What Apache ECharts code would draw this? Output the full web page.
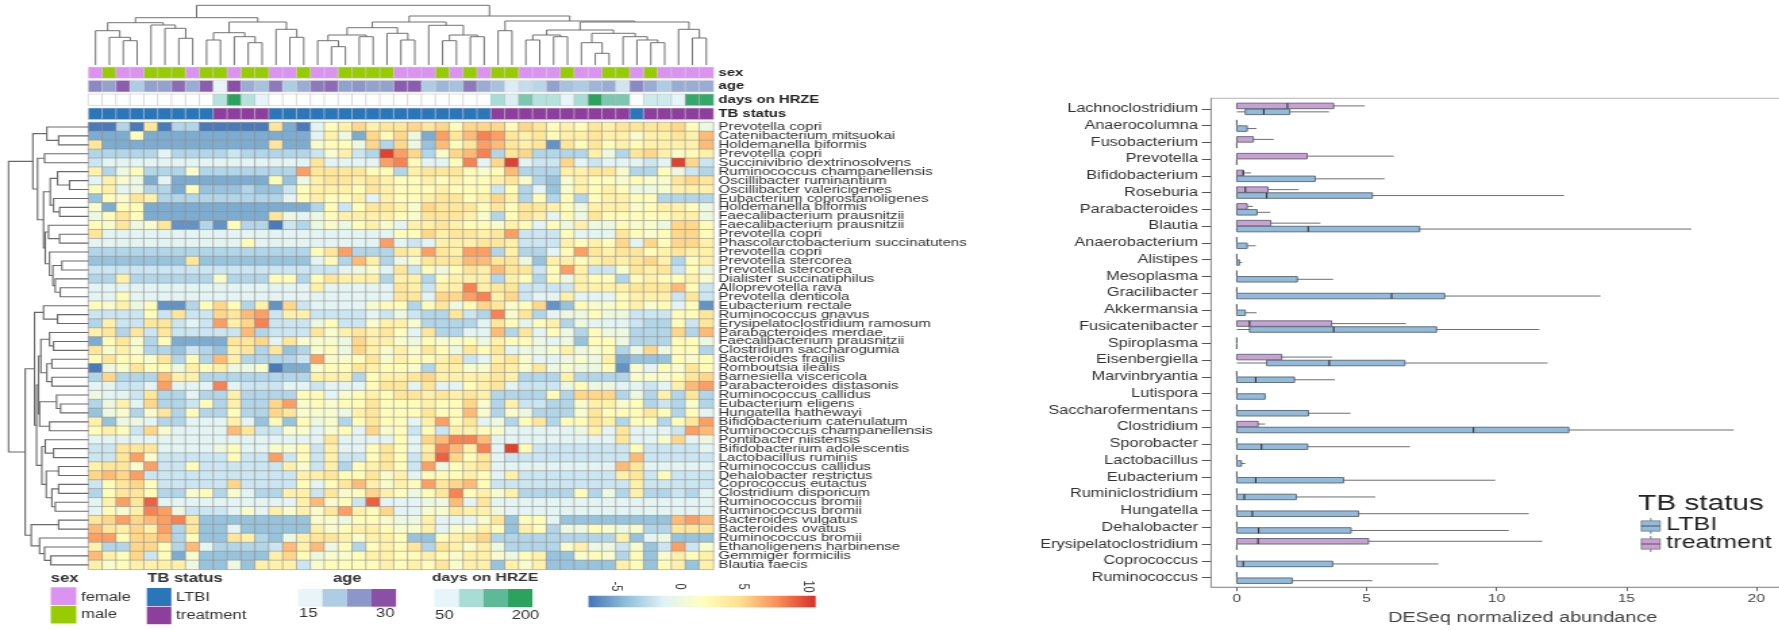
<!DOCTYPE html>
<html>
<head>
<meta charset="utf-8">
<script src="https://cdn.jsdelivr.net/npm/echarts@6/dist/echarts.min.js"></script>
<style>
html,body{margin:0;padding:0;background:#fff;overflow:hidden;width:1779px;height:630px}
#chart{position:absolute;left:0;top:0;height:630px;transform-origin:0 0;}
</style>
</head>
<body>
<div id="chart"></div>
<script>
const rowLabels = ["Prevotella copri","Catenibacterium mitsuokai","Holdemanella biformis","Prevotella copri","Succinivibrio dextrinosolvens","Ruminococcus champanellensis","Oscillibacter ruminantium","Oscillibacter valericigenes","Eubacterium coprostanoligenes","Holdemanella biformis","Faecalibacterium prausnitzii","Faecalibacterium prausnitzii","Prevotella copri","Phascolarctobacterium succinatutens","Prevotella copri","Prevotella stercorea","Prevotella stercorea","Dialister succinatiphilus","Alloprevotella rava","Prevotella denticola","Eubacterium rectale","Ruminococcus gnavus","Erysipelatoclostridium ramosum","Parabacteroides merdae","Faecalibacterium prausnitzii","Clostridium saccharogumia","Bacteroides fragilis","Romboutsia ilealis","Barnesiella viscericola","Parabacteroides distasonis","Ruminococcus callidus","Eubacterium eligens","Hungatella hathewayi","Bifidobacterium catenulatum","Ruminococcus champanellensis","Pontibacter niistensis","Bifidobacterium adolescentis","Lactobacillus ruminis","Ruminococcus callidus","Dehalobacter restrictus","Coprococcus eutactus","Clostridium disporicum","Ruminococcus bromii","Ruminococcus bromii","Bacteroides vulgatus","Bacteroides ovatus","Ruminococcus bromii","Ethanoligenens harbinense","Gemmiger formicilis","Blautia faecis"];

const heatValues = [
[-7,-7,-3,-7,4,-7,-3,-3,-7,-7,-7,-7,-7,4,-5,-7,-1,2,3,5,3,4,4,5,4,5,2,5,5,5,2,5,4,2,3,2,4,3,4,4,4,4,5,2,0],
[-5,-5,-5,2,-5,-5,-5,-5,-5,-5,-5,-5,-5,-5,-5,-5,-1,3,0,-5,5,2,5,0,-5,7,4,6,8,7,4,3,4,2,3,3,4,3,3,1,3,3,4,3,6],
[4,-5,-5,-5,-5,-5,-5,-5,-5,-5,-5,-5,-5,4,-5,-5,1,2,2,0,5,-3,5,0,-4,6,2,4,7,6,4,3,4,-6,4,2,4,2,3,2,3,3,3,3,6],
[-3,-3,-3,-3,-3,-1,-3,-3,-3,-3,-2,-3,-3,-3,-3,-3,-2,1,3,-2,-3,10,7,5,-3,1,5,6,8,-3,4,5,-3,-3,-3,-3,3,0,-3,4,5,3,1,2,3],
[-2,-1,-1,-1,-1,-1,-1,-1,-1,-1,-1,-1,-1,-1,-1,-1,4,-1,-1,-1,-1,7,8,2,-1,-1,2,8,-1,5,10,-1,-2,-2,5,-1,-2,-1,-1,-1,-2,-1,10,5,-2],
[3,-3,0,2,-3,-3,-3,1,-3,-3,-3,-3,-3,-3,-3,7,4,4,4,4,2,2,-3,3,4,4,4,2,1,2,6,-3,-3,-3,3,3,4,4,1,-3,-3,2,0,-2,-3],
[-1,3,1,0,-5,-1,-5,-5,-5,-5,-5,-5,-5,2,-4,0,3,4,4,3,4,3,2,2,3,2,3,2,2,3,4,1,-3,-4,1,3,2,2,1,2,1,1,4,5,4],
[2,3,-1,0,-3,-3,-5,2,-4,-4,-4,-3,-4,-4,-2,2,3,3,3,2,4,3,2,2,2,3,2,2,2,-2,2,-3,-1,-4,1,3,2,3,2,0,0,1,3,3,3],
[-4,2,1,4,3,-3,-3,-3,-3,-3,-3,-3,-3,-3,-1,2,3,2,2,3,-1,3,2,2,3,4,4,2,3,5,3,-3,2,-3,2,-3,2,3,3,2,2,-3,-3,-3,-3],
[1,-5,2,2,-5,-5,-5,-5,-5,-5,-5,-5,-5,-5,-5,-5,-3,2,-2,2,4,4,3,1,5,4,4,4,2,4,2,4,4,3,2,0,3,3,3,1,2,3,3,2,0],
[0,2,4,2,-5,-5,-5,-5,-5,-5,-5,-5,-5,4,0,-1,0,2,3,3,3,3,2,1,4,4,4,3,1,-3,2,4,3,-1,2,0,4,2,2,2,2,2,3,3,0],
[2,1,4,0,1,4,-6,-6,-3,-6,2,-3,-3,-7,-2,-3,0,1,0,2,3,1,-1,3,3,4,3,2,2,1,3,2,-1,2,0,3,0,0,2,1,1,0,5,5,2],
[4,-1,-1,-1,-1,-1,-1,-1,-1,-1,-1,-1,-1,-1,-1,-1,-1,-1,-1,-1,-1,-1,2,2,5,3,4,4,3,4,7,-2,-2,-2,2,-1,-1,-1,4,2,1,2,5,5,2],
[-1,-1,-1,-1,-1,-1,-1,-1,-1,-1,-1,2,-1,-1,-1,-1,-1,-1,-1,-1,-1,7,-1,-2,-1,3,3,3,4,4,3,-2,-2,-2,3,2,3,2,5,-1,5,2,5,5,3],
[-3,-3,-3,-3,-3,-3,-3,-3,-3,-3,-3,-3,-3,-3,-3,-3,2,4,7,-3,-3,-3,4,3,7,4,3,7,7,-3,3,-3,-3,-1,2,7,4,3,4,4,2,3,4,3,3],
[-4,-4,-4,-4,-4,-4,-4,4,-4,-4,-4,-4,-4,-4,-4,-4,-1,2,-3,6,3,-3,0,1,4,4,4,6,6,4,4,0,-4,3,3,2,3,4,3,4,5,3,-3,2,3],
[-2,-2,-2,-2,-2,-2,-2,-2,-2,-2,-2,-2,-2,-2,-2,-2,-2,-2,-1,0,1,-1,4,-2,2,0,2,4,3,6,4,4,-2,2,7,3,-2,-2,1,4,3,4,-2,2,0],
[-3,-3,3,-3,-3,-3,-3,-3,-3,1,-3,-3,-3,2,2,-3,2,4,3,3,3,-3,3,3,-3,2,3,3,3,-3,3,2,-3,2,0,3,2,2,-3,2,3,2,2,3,1],
[-1,-1,-1,-1,-1,-1,-1,-1,-1,-1,-1,-1,-1,-1,-1,-1,3,-1,-1,-1,-1,-1,4,3,-2,3,3,8,3,4,4,-2,-2,-2,-2,3,3,3,3,4,4,4,6,2,-2],
[-1,-1,2,-1,-1,-1,-1,-1,-1,-1,-1,-1,-1,-1,-1,-1,-1,-1,-1,-1,-1,-1,4,4,-1,5,5,7,8,3,5,-2,-1,-1,3,-1,-1,-1,2,3,3,3,-2,4,-2],
[2,1,3,0,2,-6,-6,-3,2,5,2,-3,3,-6,5,-2,-1,-1,-1,-1,1,2,2,-3,2,4,0,2,5,4,1,2,5,-6,-4,2,1,1,2,3,1,2,-1,2,-6],
[-2,-2,-2,-2,2,-2,4,-2,-2,5,4,6,7,-2,3,3,-2,-2,-2,-2,-1,-2,0,-2,-3,-3,4,-2,-3,8,1,4,-3,-1,0,0,2,0,0,-2,-2,-2,2,2,4],
[-3,3,-2,-2,4,4,-2,-1,-2,7,3,5,8,-2,-2,-2,0,2,-2,-2,1,3,3,1,-3,-3,-3,-3,-1,4,2,-1,2,3,-3,0,-1,-1,-1,-2,-3,-3,2,-2,4],
[3,4,-3,4,-2,4,-2,-2,-2,-2,-2,6,-3,-2,-2,-2,4,1,3,4,3,4,2,-1,4,-3,-3,-1,-1,6,-3,4,-1,2,0,-3,2,0,0,-3,-3,-3,5,-3,6],
[-5,2,4,1,-3,2,-5,-5,-5,-5,4,4,5,-1,4,1,1,1,0,5,3,3,1,0,2,1,1,2,0,3,2,2,0,-1,0,-4,2,2,0,-3,-3,-3,2,2,0],
[4,1,3,1,-3,-3,-4,-2,-3,-4,3,4,-3,4,-4,-3,1,2,0,5,3,1,3,1,4,2,0,4,2,4,-1,0,0,1,3,0,1,2,-3,0,5,0,2,2,-3],
[2,4,2,2,1,4,-3,2,-3,6,3,-3,-3,-3,-3,-2,7,1,1,2,4,1,3,2,2,3,4,-2,-1,3,4,1,-1,-1,0,1,0,3,-5,-4,-4,-4,2,1,2],
[-7,0,1,4,2,2,0,3,2,3,0,0,1,-7,-5,-5,1,2,2,4,3,2,2,1,-3,3,3,1,1,4,3,1,4,0,1,0,0,2,-6,1,-1,2,1,4,2],
[-3,5,-3,-3,-3,6,3,3,-3,-3,-3,-3,-3,-3,-3,-3,3,3,3,-3,2,3,3,4,5,3,3,3,3,4,3,-3,-3,-3,3,-3,-3,-3,-3,1,1,1,2,4,5],
[-1,-1,-2,-2,-1,7,-1,-1,-1,8,-1,-2,-2,-2,-1,-1,-2,-1,-1,-1,2,4,4,-1,4,-1,-1,2,3,4,-1,-2,-2,-2,0,2,0,0,-1,-1,-2,-1,3,6,7],
[0,-1,-1,-2,4,-3,-3,-1,-3,-3,3,-3,-3,-3,-3,2,2,-1,1,2,3,2,4,4,3,4,3,4,3,-3,-3,-3,-3,2,-3,5,5,5,-3,0,-3,3,-3,4,-3],
[-3,0,3,-1,5,-3,-3,-2,2,-3,3,-3,-3,5,7,1,2,1,2,2,4,2,2,2,3,2,2,5,1,-3,3,-2,-2,-3,-3,1,3,3,1,2,-3,-2,-3,1,-3],
[-4,0,1,-3,1,4,-3,2,-3,-3,2,-3,-3,5,4,1,1,1,0,3,4,2,2,2,4,2,2,6,1,-3,1,0,-3,-3,-3,1,4,2,2,2,4,2,-3,2,-1],
[3,-4,0,0,-1,-3,-3,-1,-1,-1,3,-1,-4,2,-4,2,0,1,-3,2,4,2,2,-1,3,7,2,4,-1,0,-3,2,4,-3,2,2,4,3,-3,2,2,-3,2,4,7],
[2,3,2,-2,5,1,-1,-1,-1,-1,6,4,-2,-2,1,1,-1,1,2,-1,5,1,2,-2,2,-2,3,3,2,1,-1,-1,-1,-1,-1,0,3,-1,4,-1,-1,-1,-2,7,6],
[-1,-1,-1,-1,-1,-1,-1,-1,-1,-1,-1,-1,-1,-1,-1,-1,-1,4,-1,-1,-1,-1,2,-1,5,6,8,8,6,-1,-1,-1,-1,-1,-1,-1,-1,-1,4,-1,-1,1,5,-1,0],
[-2,-2,4,4,4,-1,-1,-1,-1,0,2,-1,-1,1,1,2,-2,3,-1,-1,2,4,2,-1,3,8,6,3,8,-1,10,2,-2,-2,-2,-2,-2,-2,-2,2,-2,-2,-2,-2,-1],
[-2,-2,4,7,1,-2,-2,-2,-2,-2,2,-2,-2,7,-2,2,-2,3,-2,-2,2,4,2,-2,4,9,5,2,4,-1,-2,-2,-2,-2,-2,-2,-2,-2,-2,6,-2,-2,-2,-2,-2],
[3,4,4,1,7,-2,-2,2,-2,-2,-2,-2,-2,-2,3,1,-2,3,-3,2,3,4,2,-2,7,0,2,3,4,-1,-1,-1,-1,-1,-1,-1,-1,-1,6,4,-1,-1,-1,-1,-1],
[5,6,5,7,-2,-2,-2,-2,-2,-2,-2,-2,-2,-2,-2,3,3,4,2,2,4,1,3,-1,2,2,2,3,2,-1,3,-2,-2,-2,-2,-2,-2,-2,3,4,-2,2,-2,-2,-2],
[-2,2,4,5,2,-2,-2,-2,-2,-2,5,-2,-2,-2,-2,2,-1,2,4,6,3,1,3,2,7,4,5,6,2,-2,-2,-2,-2,-2,-2,-2,-2,-2,-2,3,-2,-2,-2,-2,-2],
[-3,2,4,4,2,-3,-3,1,2,-3,1,-1,-3,-3,3,3,-2,4,1,2,5,3,2,0,2,4,8,2,3,1,3,-3,-3,-3,-3,2,-3,0,-3,3,-3,-3,-2,-3,-1],
[-1,3,7,4,9,-1,-1,-1,-1,-1,-1,-1,-1,-1,-1,3,6,1,2,-2,9,-1,-1,-1,0,0,6,-1,4,-1,-1,-1,-1,-1,-1,-1,-1,-1,-1,-1,-1,-1,-1,-1,-1],
[-1,2,1,3,8,7,0,-2,-2,-2,-1,1,-1,3,1,3,1,4,7,3,2,5,-1,-1,1,1,4,3,3,0,-1,-1,-1,-1,-1,-1,-1,-1,-1,-1,-1,-1,-1,-1,-1],
[4,5,7,5,6,7,8,4,-4,-4,-4,-4,-4,-4,-4,-4,1,1,0,2,2,1,0,0,3,-1,-1,-1,1,4,-4,2,2,-1,-4,-4,-4,-4,-4,-4,-4,-4,6,7,6],
[6,4,3,5,3,7,-3,4,-4,-4,-1,-4,-4,-4,-4,-4,3,1,2,3,3,2,1,1,3,-1,1,1,3,2,-4,3,2,-3,0,0,2,1,0,1,-3,-3,4,4,4],
[7,7,2,5,5,6,-3,2,-4,-4,4,3,-3,-4,0,3,4,4,3,1,3,3,2,-4,-4,2,3,4,5,-3,-3,-3,-3,-3,-3,-3,-3,-3,3,-4,-1,0,-4,-4,-4],
[3,-3,-3,5,5,2,-3,6,-1,-3,-3,-3,-3,-2,6,3,6,0,2,-3,2,3,2,4,-3,4,3,1,3,0,-3,-3,-3,-3,1,3,0,0,-2,1,-4,-2,7,-2,1],
[6,3,2,5,-2,2,-5,1,-4,-4,-4,-4,-4,3,5,2,0,1,1,2,3,3,2,2,3,2,1,3,3,1,0,2,3,-4,-4,1,2,1,-3,2,-4,1,3,2,3],
[3,1,2,3,3,3,3,0,-4,-4,0,-4,3,3,3,-2,1,2,2,2,2,3,2,3,2,4,1,3,3,-4,3,1,3,-4,-4,-4,-4,-4,3,2,-4,2,3,-4,3]
];

const sexValues = "F M F F M M M F M M F M M F F M F F M M M M F F F M F M F M M F F F M F F M M F M F F F F".split(" ");
const ageValues = [26,24,29,20,24,24,28,23,29,15,30,23,21,27,20,23,27,28,24,25,24,24,29,29,20,22,21,27,23,21,16,18,19,24,21,20,22,23,17,26,23,20,23,23,23];
const daysValues = [null,null,null,null,null,null,null,null,null,90,200,90,50,null,null,null,null,null,null,null,null,null,null,null,null,null,null,null,null,100,60,130,90,90,40,100,200,130,130,null,70,70,40,190,190];
const tbValues = "L L L L L L L L L T T T T L L L L L L L L L L L L L L L L T T T T T T T T T T L T T T T T".split(" ");

// dendrograms: [merge height, left, right]; integers are leaves
const colTree = [59.7,
  [47.3,
    [42.3,[34.3,0,[27.7,1,[24.3,2,3]]],[40,4,[36.7,5,[26.7,6,7]]]],
    [43,[32.3,[25,8,9],[28.3,10,[22.3,11,12]]],[35.7,13,[27.7,14,15]]]],
  [49,
    [43,[37.3,[30,[24.3,16,[18.3,17,18]],[28.3,19,20]],[31.7,21,[25,22,23]]],
        [39.7,24,[30,[24.3,25,26],[28.3,27,28]]]],
    [44,[34.3,29,30],
        [43,[35,[30,[25,31,32],[28.3,33,34]],[31.7,[22.3,35,[11.7,36,37]],[28.3,38,[25,39,[22.3,40,41]]]]],
            [35.7,42,[27,43,44]]]]]];
const rowTree = [80,
  [55.7,
    [41.7,0,[30,1,2]],
    [51,[44,3,4],
      [45,[38.3,[31,5,[19,6,7]],[35,8,[29,9,10]]],
          [43.3,[40,11,[29,12,13]],[39,14,[35.7,[26.7,15,16],[33.3,17,[28.3,18,19]]]]]]]],
  [63.3,
    [54,[45,20,[31,21,22]],
      [52,[50,[47.7,[39,23,[35,24,25]],[41.7,[36.7,26,27],[36.7,28,29]]],
              [49,[32,30,[28,31,32]],[39,33,34]]],
          [46.7,[43.3,35,[35,36,37]],[42.3,[30,38,39],[36.7,[30,40,41],[33.3,42,43]]]]]],
    [57.3,[30,44,45],[49,46,[44,47,[37.7,48,49]]]]]];

const boxCategories = ["Lachnoclostridium","Anaerocolumna","Fusobacterium","Prevotella","Bifidobacterium","Roseburia","Parabacteroides","Blautia","Anaerobacterium","Alistipes","Mesoplasma","Gracilibacter","Akkermansia","Fusicatenibacter","Spiroplasma","Eisenbergiella","Marvinbryantia","Lutispora","Saccharofermentans","Clostridium","Sporobacter","Lactobacillus","Eubacterium","Ruminiclostridium","Hungatella","Dehalobacter","Erysipelatoclostridium","Coprococcus","Ruminococcus"];
// [min, q1, median, q3, max]
const treatmentStats = [[0,0,1.95,3.73,4.93],[0,0,0,0,0],[0,0,0,.64,1.42],[0,0,0,2.71,6.04],[0,0,.25,.25,.55],[0,0,.33,1.2,2.38],[0,0,0,.4,.62],[0,0,0,1.31,3.22],[0,0,0,0,0],[0,0,0,0,0],[0,0,0,0,0],[0,0,0,0,0],[0,0,0,0,0],[0,0,.49,3.65,6.51],[0,0,0,0,0],[0,0,0,1.73,3.67],[0,0,0,0,0],[0,0,0,0,0],[0,0,0,0,0],[0,0,0,.82,1.09],[0,0,0,0,0],[0,0,0,0,0],[0,0,0,0,0],[0,0,0,0,0],[0,0,0,0,0],[0,0,0,0,0],[0,0,.82,5.07,11.76],[0,0,0,0,0],[0,0,0,0,0]];
const ltbiStats = [[0,.33,1.04,2.04,3.55],[0,0,0,.4,.76],[0,0,0,0,0],[0,0,0,0,0],[0,0,0,3.02,5.69],[0,0,1.15,5.22,12.6],[0,0,0,.78,1.29],[0,0,2.75,7.04,17.5],[0,0,0,.4,.73],[0,0,0,.1,.2],[0,0,0,2.33,3.71],[0,0,5.96,8,14],[0,0,0,.33,.76],[0,.49,3.73,7.69,11.65],[0,0,0,0,0],[0,1.15,3.56,6.47,11.96],[0,0,.73,2.22,3.78],[0,0,0,1.09,1.11],[0,0,0,2.76,4.38],[0,0,9.11,12.78,19.13],[0,0,.95,2.73,6.67],[0,0,0,.18,.33],[0,0,.73,4.11,9.95],[0,0,.29,2.29,5.33],[0,0,.6,4.69,11.24],[0,0,.84,4.4,10.47],[0,0,0,0,0],[0,0,.25,3.69,7.76],[0,0,0,2.13,5.22]];
const xTicks = [0,5,10,15,20];
const scaleTicks = [-5,0,5,10];

// ---- horizontal stretch of the whole figure, as in the reference
const SX = 1.35;
const X = v => v / SX;
const FONT = '"Liberation Sans", Arial, sans-serif';
const el = document.getElementById('chart');
el.style.width = (1779 / SX) + 'px';
el.style.transform = 'scaleX(' + SX + ')';
const chart = echarts.init(el, null, {renderer:'canvas', width:1779/SX, height:630});

heatValues.forEach((r,i)=>{ if(r.length!==45) throw new Error('row '+i+' has '+r.length); });

const heatColors = ['#4575B4','#91BFDB','#E0F3F8','#FFFFBF','#FEE090','#FC8D59','#D73027'];
const sexColor = {F:'#DC92F0',M:'#97CC04'};
const tbColor = {L:'#2B76B9',T:'#8E3F9E'};
const ageSteps = ['#E8F4F8','#AECCE4','#8C96C8','#8B4FA8'];
const daysSteps = ['#E5F5F9','#A8DDD5','#5DB998','#2CA25F'];
function mix(stops,t){
  const p=Math.max(0,Math.min(stops.length-1,t*(stops.length-1)));
  const i=Math.min(stops.length-2,Math.floor(p)),f=p-i;
  const h=s=>[1,3,5].map(k=>parseInt(s.substr(k,2),16));
  const a=h(stops[i]),b=h(stops[i+1]);
  return 'rgb('+a.map((v,k)=>Math.round(v+(b[k]-v)*f)).join(',')+')';
}

function treeLinks(node,out){
  if(typeof node==='number') return {pos:node+.5,h:0};
  const l=treeLinks(node[1],out), r=treeLinks(node[2],out);
  out.push([l.pos,l.h,r.pos,r.h,node[0]]);
  return {pos:(l.pos+r.pos)/2,h:node[0]};
}
const colLinks=[],rowLinks=[];
treeLinks(colTree,colLinks);
treeLinks(rowTree,rowLinks);

const heatLeft=X(88.5), heatW=X(624.2), heatTop=122.5, heatH=446.8;
const annoRows=[['sex',67.3,10.7],['age',80.7,11],['days on HRZE',94.3,11],['TB status',108.3,11]];

const grids=[{left:heatLeft,top:heatTop,width:heatW,height:heatH}];
const xAxes=[{type:'category',gridIndex:0,show:false,data:heatValues[0].map((_,i)=>i)}];
const yAxes=[{type:'category',gridIndex:0,position:'right',inverse:true,data:rowLabels,
  axisLine:{show:false},axisTick:{show:false},
  axisLabel:{interval:0,margin:3.9,fontSize:11.1,color:'#333',fontFamily:FONT}}];
const series=[{type:'heatmap',xAxisIndex:0,yAxisIndex:0,
  data:heatValues.flatMap((r,j)=>r.map((v,i)=>[i,j,v])),
  itemStyle:{borderColor:'#8f8f8f',borderWidth:.55},emphasis:{disabled:true},silent:true}];

const annoColors=[
  i=>sexColor[sexValues[i]],
  i=>mix(ageSteps,(ageValues[i]-15)/15),
  i=>daysValues[i]==null?'#FFFFFF':mix(daysSteps,(daysValues[i]-50)/150),
  i=>tbColor[tbValues[i]]
];
annoRows.forEach((a,k)=>{
  const gi=grids.length;
  grids.push({left:heatLeft,top:a[1],width:heatW,height:a[2]});
  xAxes.push({type:'category',gridIndex:gi,show:false,data:heatValues[0].map((_,i)=>i)});
  yAxes.push({type:'category',gridIndex:gi,position:'right',data:[a[0]],
    axisLine:{show:false},axisTick:{show:false},
    axisLabel:{margin:3.9,fontSize:11,fontWeight:'bold',color:'#222',fontFamily:FONT}});
  series.push({type:'heatmap',xAxisIndex:gi,yAxisIndex:gi,silent:true,emphasis:{disabled:true},
    data:heatValues[0].map((_,i)=>({value:[i,0,1],itemStyle:{color:annoColors[k](i)}})),
    itemStyle:{borderColor:k===2?'#bdbdbd':'#d8d8d8',borderWidth:.5}});
});

// top dendrogram
let gi=grids.length;
grids.push({left:heatLeft,top:5,width:heatW,height:60});
xAxes.push({type:'value',gridIndex:gi,min:0,max:45,show:false});
yAxes.push({type:'value',gridIndex:gi,min:0,max:60,show:false});
series.push({type:'custom',xAxisIndex:gi,yAxisIndex:gi,silent:true,clip:false,data:colLinks,
  encode:{x:[0,2],y:[1,3,4]},
  renderItem:(p,api)=>{
    const pts=[[api.value(0),api.value(1)],[api.value(0),api.value(4)],[api.value(2),api.value(4)],[api.value(2),api.value(3)]].map(q=>api.coord(q));
    return {type:'polyline',shape:{points:pts},style:{fill:null,stroke:'#6a6a6a',lineWidth:.95}};
  }});
// left dendrogram
gi=grids.length;
grids.push({left:X(8),top:heatTop,width:X(80.5),height:heatH});
xAxes.push({type:'value',gridIndex:gi,min:0,max:80.5,inverse:true,show:false});
yAxes.push({type:'value',gridIndex:gi,min:0,max:50,inverse:true,show:false});
series.push({type:'custom',xAxisIndex:gi,yAxisIndex:gi,silent:true,clip:false,data:rowLinks,
  encode:{y:[0,2],x:[1,3,4]},
  renderItem:(p,api)=>{
    const pts=[[api.value(1),api.value(0)],[api.value(4),api.value(0)],[api.value(4),api.value(2)],[api.value(3),api.value(2)]].map(q=>api.coord(q));
    return {type:'polyline',shape:{points:pts},style:{fill:null,stroke:'#6a6a6a',lineWidth:1.1}};
  }});

// boxplot panel
gi=grids.length;
grids.push({left:X(1210),top:98.3,width:X(569),height:494,show:true,borderColor:'#b5b5b5',borderWidth:1,backgroundColor:'transparent'});
const boxXMin=-(1235.8-1210)/25.96, boxXMax=(1779-1235.8)/25.96;
xAxes.push({type:'value',gridIndex:gi,min:boxXMin,max:boxXMax,position:'bottom',
  splitLine:{show:false},
  axisLine:{show:true,onZero:false,lineStyle:{color:'#9a9a9a',width:1}},
  axisTick:{show:true,length:4,lineStyle:{color:'#666'},customValues:xTicks},
  axisLabel:{fontSize:11.5,color:'#444',fontFamily:FONT,margin:6,customValues:xTicks,showMinLabel:true,showMaxLabel:true},
  name:'DESeq normalized abundance',nameLocation:'middle',nameGap:22,
  nameTextStyle:{fontSize:14.7,color:'#444',fontFamily:FONT,padding:[0,0,0,40]}});
const boxYTicks=boxCategories.map((_,i)=>i);
yAxes.push({type:'value',gridIndex:gi,inverse:true,min:-.632,max:28.56,
  splitLine:{show:false},
  axisLine:{show:true,onZero:false,lineStyle:{color:'#9a9a9a',width:1}},
  axisTick:{show:true,length:6.7,lineStyle:{color:'#555'},customValues:boxYTicks},
  axisLabel:{fontSize:12,color:'#333',fontFamily:FONT,margin:9.6,customValues:boxYTicks,
    formatter:v=>boxCategories[Math.round(v)]||''}});
function boxSeries(name,stats,off,fill){
  return {type:'custom',name,xAxisIndex:gi,yAxisIndex:gi,silent:true,clip:false,
    data:stats.map((s,i)=>[i,...s]),encode:{x:[1,2,3,4,5],y:0},
    renderItem:(p,api)=>{
      const c=api.value(0), h=.165;
      const pt=(v,d)=>api.coord([v,c+off+d]);
      const [mn,q1,md,q3,mx]=[1,2,3,4,5].map(k=>api.value(k));
      const a=pt(q1,-h), b=pt(q3,h);
      const kids=[];
      kids.push({type:'line',shape:{x1:pt(mn,0)[0],y1:pt(mn,0)[1],x2:pt(mx,0)[0],y2:pt(mx,0)[1]},style:{stroke:'#6e6e6e',lineWidth:1}});
      kids.push({type:'rect',shape:{x:a[0],y:a[1],width:b[0]-a[0],height:b[1]-a[1]},style:{fill,stroke:'#5a6570',lineWidth:.9}});
      if(md>q1) kids.push({type:'line',shape:{x1:pt(md,-h)[0],y1:pt(md,-h)[1],x2:pt(md,h)[0],y2:pt(md,h)[1]},style:{stroke:'#333',lineWidth:1.1}});
      return {type:'group',children:kids};
    }};
}
const fillT='#C9A0D2', fillL='#92BADB';
series.push(boxSeries('treatment',treatmentStats,-.177,fillT));
series.push(boxSeries('LTBI',ltbiStats,.177,fillL));

// legends
const txt=(text,x,y,size,extra)=>({type:'text',x:X(x),y,silent:true,style:Object.assign({text,font:(extra&&extra.weight||'normal')+' '+size+'px '+FONT,fill:'#333',textAlign:'left',textVerticalAlign:'middle'},extra||{})});
const box=(x,y,w,h,fill,stroke)=>({type:'rect',silent:true,shape:{x:X(x),y,width:X(w),height:h},style:{fill,stroke:stroke||null,lineWidth:stroke?.6:0}});
const g=[];
g.push(txt('sex',50.7,579,12.3,{weight:'bold'}));
g.push(box(50.7,587.3,25.5,17.7,sexColor.F),box(50.7,606,25.5,17.5,sexColor.M));
g.push(txt('female',81,597.3,12.3),txt('male',81,615,12.3));
g.push(txt('TB status',147,579,12.3,{weight:'bold'}));
g.push(box(146.7,588,24.5,18,tbColor.L),box(146.7,606.7,24.5,17.5,tbColor.T));
g.push(txt('LTBI',176,597.5,12.3),txt('treatment',176,616,12.3));
g.push(txt('age',347,579,12.3,{weight:'bold',textAlign:'center'}));
ageSteps.forEach((c,i)=>g.push(box(297.7+24.5*i,589,24.5,17.7,c)));
g.push(txt('15',308,614,12.3,{textAlign:'center'}),txt('30',385,614,12.3,{textAlign:'center'}));
g.push(txt('days on HRZE',431.7,578,11.6,{weight:'bold'}));
daysSteps.forEach((c,i)=>g.push(box(434+24.5*i,589,24.5,18,c)));
g.push(txt('50',444,616,12.3,{textAlign:'center'}),txt('200',525,616,12.3,{textAlign:'center'}));
g.push({type:'rect',silent:true,shape:{x:X(588),y:595.7,width:X(227),height:11.6},
  style:{fill:new echarts.graphic.LinearGradient(0,0,1,0,heatColors.map((c,i)=>({offset:i/6,color:c})))}});
const scaleX=v=>616+(v+5)*12.72;
scaleTicks.forEach(v=>g.push({type:'text',x:X(scaleX(v)),y:586.5,rotation:-Math.PI/2,silent:true,
  style:{text:String(v),font:'11px '+FONT,fill:'#333',textAlign:'center',textVerticalAlign:'middle'}}));
// box legend
g.push(txt('TB status',1637,504,22,{fill:'#222'}));
[[fillL,526,'LTBI'],[fillT,544,'treatment']].forEach(r=>{
  g.push({type:'line',silent:true,shape:{x1:X(1649.5),y1:r[1]-8,x2:X(1649.5),y2:r[1]+8},style:{stroke:'#777',lineWidth:1}});
  g.push(box(1640,r[1]-5.2,19,10.4,r[0],'#5a6570'));
  g.push({type:'line',silent:true,shape:{x1:X(1640),y1:r[1],x2:X(1659),y2:r[1]},style:{stroke:'#555',lineWidth:1}});
  g.push(txt(r[2],1665,r[1]-1,18.5,{fill:'#222'}));
});

chart.setOption({
  animation:false,
  backgroundColor:'#fff',
  grid:grids,xAxis:xAxes,yAxis:yAxes,series,
  visualMap:{show:false,seriesIndex:0,dimension:2,min:-7.2,max:10.6,inRange:{color:heatColors}},
  graphic:g
});
</script>
</body>
</html>
